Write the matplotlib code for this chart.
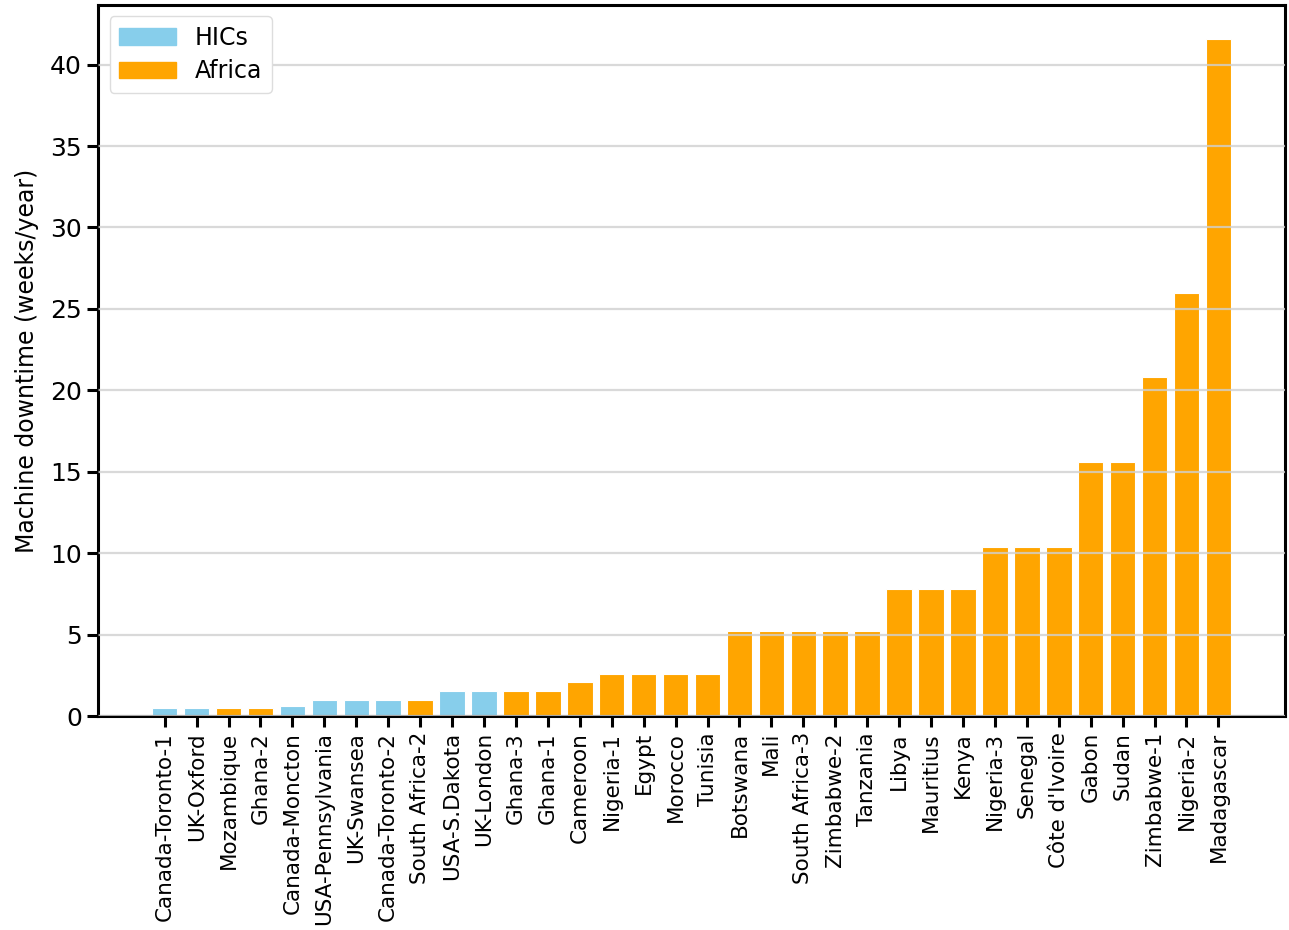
import matplotlib.pyplot as plt
from matplotlib.patches import Patch

sites = ["Canada-Toronto-1", "UK-Oxford", "Mozambique", "Ghana-2", "Canada-Moncton",
         "USA-Pennsylvania", "UK-Swansea", "Canada-Toronto-2", "South Africa-2",
         "USA-S.Dakota", "UK-London", "Ghana-3", "Ghana-1", "Cameroon", "Nigeria-1",
         "Egypt", "Morocco", "Tunisia", "Botswana", "Mali", "South Africa-3",
         "Zimbabwe-2", "Tanzania", "Libya", "Mauritius", "Kenya", "Nigeria-3",
         "Senegal", "Côte d'Ivoire", "Gabon", "Sudan", "Zimbabwe-1", "Nigeria-2",
         "Madagascar"]
downtime = [0.5, 0.5, 0.5, 0.5, 0.6, 1.0, 1.0, 1.0, 1.0, 1.56, 1.56, 1.56, 1.56,
            2.1, 2.6, 2.6, 2.6, 2.6, 5.2, 5.2, 5.2, 5.2, 5.2, 7.8, 7.8, 7.8,
            10.4, 10.4, 10.4, 15.6, 15.6, 20.8, 26.0, 41.6]
region = ["HIC", "HIC", "Africa", "Africa", "HIC", "HIC", "HIC", "HIC", "Africa",
          "HIC", "HIC"] + ["Africa"] * 23

palette = {"HIC": "skyblue", "Africa": "orange"}
colors = [palette[r] for r in region]

fig = plt.figure(figsize=(12.89, 9.30), dpi=100)
ax = fig.add_axes([0.076, 0.23, 0.921, 0.765])

ax.bar(range(len(sites)), downtime, width=0.8, color=colors,
       edgecolor="white", linewidth=0.8)

ax.set_xticks(range(len(sites)))
ax.set_xticklabels(sites, rotation=90)
ax.set_ylabel("Machine downtime (weeks/year)", fontsize=17, labelpad=8)
ax.set_yticks(range(0, 41, 5))

# grid drawn over the bars
ax.grid(axis="y", color="#d0d0d0", linewidth=1.6, alpha=0.8)
ax.set_axisbelow(False)

ax.tick_params(axis="both", length=8, width=2.2, color="black")
ax.tick_params(axis="x", labelsize=15.5)
ax.tick_params(axis="y", labelsize=18)
for sp in ax.spines.values():
    sp.set_linewidth(2.2)

handles = [Patch(color=palette["HIC"], label="HICs"),
           Patch(color=palette["Africa"], label="Africa")]
ax.legend(handles=handles, loc="upper left", fontsize=17, framealpha=1,
          edgecolor="#dddddd", handlelength=2.4, labelspacing=0.4)

fig.savefig("out.png", dpi=100)
